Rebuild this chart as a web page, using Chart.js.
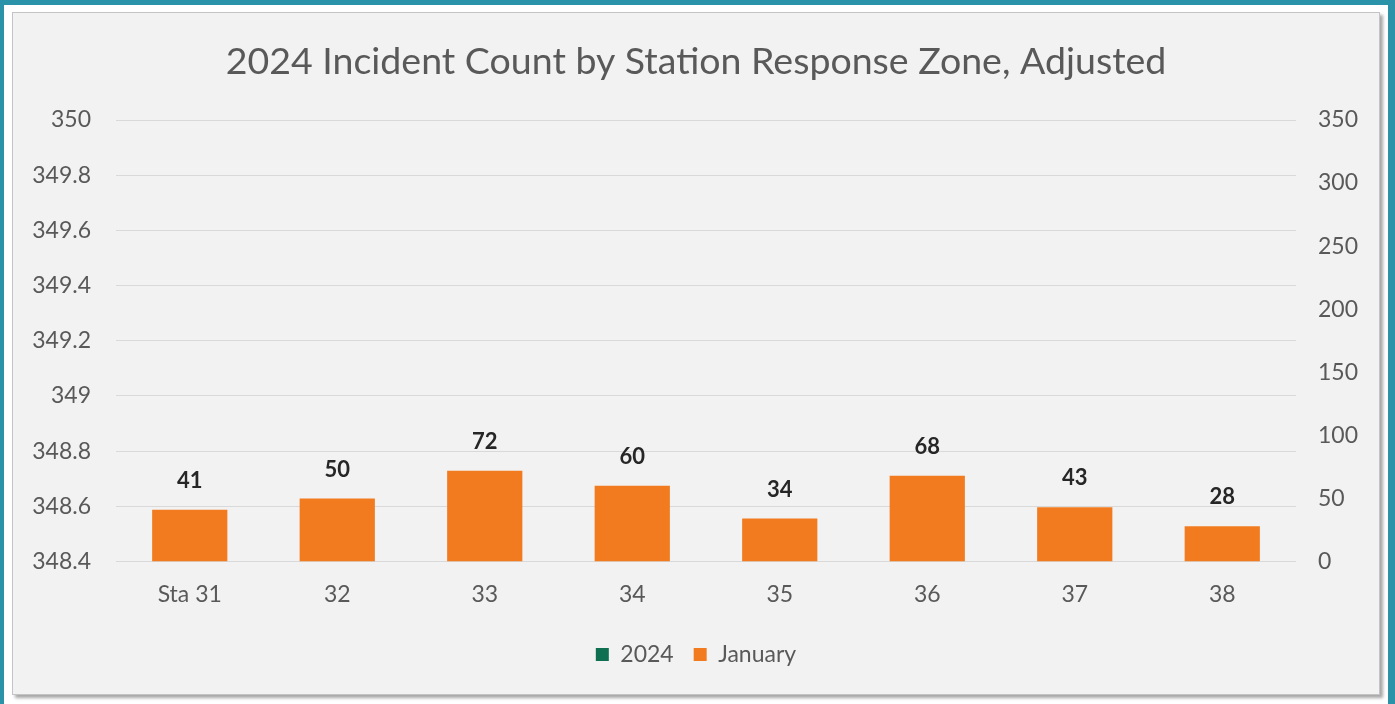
<!DOCTYPE html>
<html>
<head>
<meta charset="utf-8">
<script src="https://cdn.jsdelivr.net/npm/chart.js@4.4.1/dist/chart.umd.min.js"></script>
<style>
  html, body { margin: 0; padding: 0; background: #ffffff; }
  #frame {
    position: absolute; left: 0; top: 0; width: 1395px; height: 704px;
    box-sizing: border-box; border-top: 5px solid #2a93aa;
    border-left: 4px solid #2a93aa; border-right: 7px solid #2a93aa;
  }
  #panel {
    position: absolute; left: 12px; top: 12px; width: 1366px; height: 681px;
    border: 1px solid #c4c4c4; background: #f2f2f2;
    box-shadow: 3px 3px 3px rgba(0, 0, 0, 0.35);
  }
  canvas { display: block; }
</style>
</head>
<body>
<div id="frame"></div>
<div id="panel"><canvas id="chart" width="1366" height="681"></canvas></div>
<script>
const stations = ['Sta 31', '32', '33', '34', '35', '36', '37', '38'];
const series2024 = [null, null, null, null, null, null, null, null];
const januaryCounts = [41, 50, 72, 60, 34, 68, 43, 28];
const leftTickLabels = ['348.4', '348.6', '348.8', '349', '349.2', '349.4', '349.6', '349.8', '350'];

const FONT = 'Lato, "Open Sans", sans-serif';
const TEXT = '#595959';

// bold value labels above the January bars
const valueLabels = {
  id: 'valueLabels',
  afterDatasetsDraw(chart) {
    const ctx = chart.ctx;
    const meta = chart.getDatasetMeta(1);
    ctx.save();
    ctx.font = 'bold 22px ' + FONT;
    ctx.fillStyle = '#262626';
    ctx.textAlign = 'center';
    ctx.textBaseline = 'middle';
    meta.data.forEach((bar, i) => {
      ctx.fillText(String(januaryCounts[i]), bar.x, bar.y - 29);
    });
    ctx.restore();
  }
};

new Chart(document.getElementById('chart'), {
  type: 'bar',
  data: {
    labels: stations,
    datasets: [
      {
        label: '2024',
        data: series2024,
        yAxisID: 'y',
        backgroundColor: '#0e6f51',
        grouped: false,
      },
      {
        label: 'January',
        data: januaryCounts,
        yAxisID: 'y1',
        backgroundColor: '#f27b1f',
        grouped: false,
      },
    ],
  },
  options: {
    responsive: false,
    animation: false,
    layout: { padding: { left: 0, right: 0, top: 0, bottom: 18 } },
    datasets: { bar: { categoryPercentage: 0.51, barPercentage: 1 } },
    plugins: {
      tooltip: { enabled: false },
      title: {
        display: true,
        text: '2024 Incident Count by Station Response Zone, Adjusted',
        color: TEXT,
        font: { family: FONT, size: 37.5, weight: 'normal' },
        padding: { top: 26.5, bottom: 35.5 },
      },
      legend: {
        position: 'bottom',
        labels: {
          boxWidth: 13,
          boxHeight: 13,
          padding: 20,
          color: TEXT,
          font: { family: FONT, size: 23 },
        },
      },
    },
    scales: {
      x: {
        afterFit(scale) { scale.height = 61.5; },
        grid: { display: false, drawTicks: false },
        border: { display: false },
        ticks: { color: TEXT, padding: 19, font: { family: FONT, size: 23 } },
      },
      y: {
        position: 'left',
        min: 348.4,
        max: 350,
        afterFit(scale) { scale.width = 103; },
        afterBuildTicks(scale) {
          scale.ticks = leftTickLabels.map(v => ({ value: parseFloat(v) }));
        },
        ticks: {
          color: TEXT,
          padding: 25,
          font: { family: FONT, size: 23 },
          callback: (v, i) => leftTickLabels[i],
        },
        grid: { color: '#d9d9d9', lineWidth: 1, drawTicks: false },
        border: { display: false },
      },
      y1: {
        position: 'right',
        min: 0,
        max: 350,
        afterFit(scale) { scale.width = 83; },
        ticks: {
          stepSize: 50,
          color: TEXT,
          padding: 22,
          font: { family: FONT, size: 23 },
        },
        grid: { display: false, drawTicks: false },
        border: { display: false },
      },
    },
  },
  plugins: [valueLabels],
});
</script>
</body>
</html>
